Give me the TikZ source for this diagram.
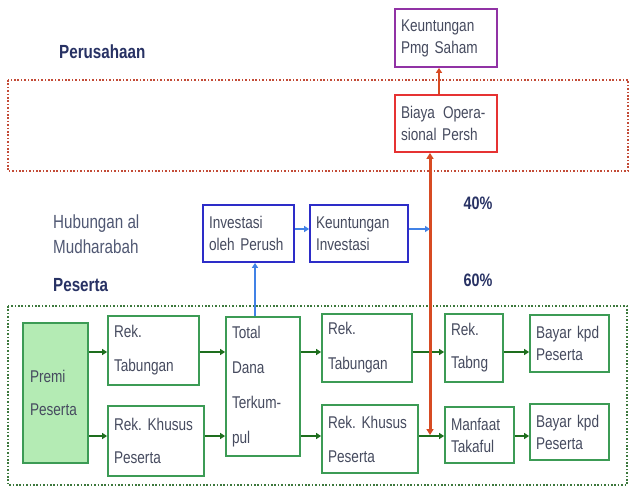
\documentclass[tikz,border=0pt]{standalone}
\usepackage{fontspec}
\setmainfont{Liberation Sans}[FakeStretch=0.8]
\frenchspacing
\usetikzlibrary{arrows.meta}
\newcommand\myboxfont{\fontsize{17}{22}\selectfont\spaceskip=3.8pt\relax}
\newcommand\myhubfont{\fontsize{19}{25}\selectfont\spaceskip=4.2pt\relax}
\definecolor{txt}{RGB}{70,75,95}
\definecolor{lab}{RGB}{40,50,100}
\definecolor{labr}{RGB}{80,88,115}
\definecolor{gborder}{RGB}{60,155,85}
\definecolor{gfill}{RGB}{180,235,180}
\definecolor{garr}{RGB}{30,110,30}
\definecolor{bborder}{RGB}{45,45,200}
\definecolor{barr}{RGB}{65,130,230}
\definecolor{pborder}{RGB}{145,50,165}
\definecolor{rborder}{RGB}{230,50,50}
\definecolor{rarr}{RGB}{215,75,35}
\definecolor{rdot}{RGB}{195,75,55}
\definecolor{gdot}{RGB}{60,120,60}
\tikzset{
  box/.style={draw, line width=1.8pt, fill=white, align=left, inner xsep=6pt, inner ysep=0pt,
    text=txt, font=\myboxfont},
  gbox/.style={box, draw=gborder},
  bbox/.style={box, draw=bborder},
  pbox/.style={box, draw=pborder},
  rbox/.style={box, draw=rborder},
  garrow/.style={draw=garr, line width=2.4pt, -{Triangle[length=5pt,width=6pt]}},
  barrow/.style={draw=barr, line width=2.6pt, -{Triangle[length=5pt,width=6pt]}},
  blabel/.style={text=lab, font=\bfseries\fontsize{19}{23}\selectfont, anchor=west, inner sep=0pt},
  pct/.style={text=lab, font=\bfseries\fontsize{18}{22}\selectfont, inner sep=0pt},
  dotbox/.style={line width=1.6pt, dash pattern=on 1.6pt off 1.8pt}
}
\begin{document}
\begin{tikzpicture}[x=1pt,y=-1pt]
\useasboundingbox (0,0) rectangle (636,488);
\fill[white] (0,0) rectangle (636,488);
% dotted regions
\draw[dotbox, draw=rdot] (8,80) rectangle (628,171);
\draw[dotbox, draw=gdot] (8,306) rectangle (627,485);
% labels
\node[blabel] (lperus) at (59,52) {Perusahaan};
\node[text=labr, font=\myhubfont, align=left, anchor=west, inner sep=0pt] (lhub) at (53,234.5) {Hubungan al\\Mudharabah};
\node[blabel] (lpes) at (53,285) {Peserta};
\node[pct] (p40) at (478,203) {40\%};
\node[pct] (p60) at (478,280) {60\%};
% company boxes
\node[pbox, minimum width=102pt, minimum height=58pt, text width=90pt] (kps) at (446,38) {Keuntungan\\Pmg Saham};
\node[rbox, minimum width=102pt, minimum height=57pt, text width=90pt] (biaya) at (446,123.5) {Biaya\hspace{8pt}Opera-\\sional Persh};
% investment boxes
\node[bbox, minimum width=91pt, minimum height=57pt, text width=79pt] (inv) at (248.5,233.5) {Investasi\\oleh Perush};
\node[bbox, minimum width=98pt, minimum height=57pt, text width=86pt] (kinv) at (359,233.5) {Keuntungan\\Investasi};
% participant boxes
\node[gbox, fill=gfill, minimum width=65pt, minimum height=140pt, text width=51pt, inner xsep=7pt] (premi) at (55.5,393) {Premi\\[11pt]Peserta};
\node[gbox, minimum width=91pt, minimum height=69pt, text width=79pt] (rt1) at (153.5,350.5) {Rek.\\[12pt]Tabungan};
\node[gbox, minimum width=96pt, minimum height=70pt, text width=84pt] (rk1) at (156,441) {Rek. Khusus\\[11pt]Peserta};
\node[gbox, minimum width=74pt, minimum height=139pt, text width=62pt] (total) at (263,386.5) {Total\\[13pt]Dana\\[13pt]Terkum-\\[13pt]pul};
\node[gbox, minimum width=90pt, minimum height=68pt, text width=78pt] (rt2) at (367,348) {Rek.\\[13pt]Tabungan};
\node[gbox, minimum width=96pt, minimum height=68pt, text width=84pt] (rk2) at (370,439) {Rek. Khusus\\[12pt]Peserta};
\node[gbox, minimum width=58pt, minimum height=68pt, text width=46pt] (rtabng) at (474,348) {Rek.\\[11pt]Tabng};
\node[gbox, minimum width=69pt, minimum height=56pt, text width=57pt] (manf) at (479.5,435) {Manfaat\\Takaful};
\node[gbox, minimum width=79pt, minimum height=57pt, text width=67pt] (bay1) at (569.5,343.5) {Bayar kpd\\Peserta};
\node[gbox, minimum width=79pt, minimum height=56pt, text width=67pt] (bay2) at (569.5,432) {Bayar kpd\\Peserta};
% green arrows
\draw[garrow] (premi.east |- 0,352) -- (rt1.west |- 0,352);
\draw[garrow] (premi.east |- 0,436) -- (rk1.west |- 0,436);
\draw[garrow] (rt1.east |- 0,352) -- (total.west |- 0,352);
\draw[garrow] (rk1.east |- 0,436) -- (total.west |- 0,436);
\draw[garrow] (total.east |- 0,352) -- (rt2.west |- 0,352);
\draw[garrow] (total.east |- 0,436) -- (rk2.west |- 0,436);
\draw[garrow] (rt2.east |- 0,352) -- (rtabng.west |- 0,352);
\draw[garrow] (rk2.east |- 0,436) -- (manf.west |- 0,436);
\draw[garrow] (rtabng.east |- 0,352) -- (bay1.west |- 0,352);
\draw[garrow] (manf.east |- 0,436) -- (bay2.west |- 0,436);
% red flow
\coordinate (rbot) at (430,435);
\draw[draw=rarr, line width=3pt, {Triangle[length=6pt,width=7pt]}-{Triangle[length=6pt,width=7pt]}] (rbot) -- (rbot |- biaya.south);
\draw[draw=rarr, line width=2.2pt, -{Triangle[length=5pt,width=6pt]}] (biaya.north -| 439,0) -- (kps.south -| 439,0);
% blue arrows
\draw[barrow] (inv.east |- 0,229) -- (kinv.west |- 0,229);
\draw[barrow] (kinv.east |- 0,229) -- (rbot |- 0,229);
\draw[draw=barr, line width=1.8pt, -{Triangle[length=5pt,width=6pt]}] (total.north -| 255,0) -- (inv.south -| 255,0);
\end{tikzpicture}
\end{document}
